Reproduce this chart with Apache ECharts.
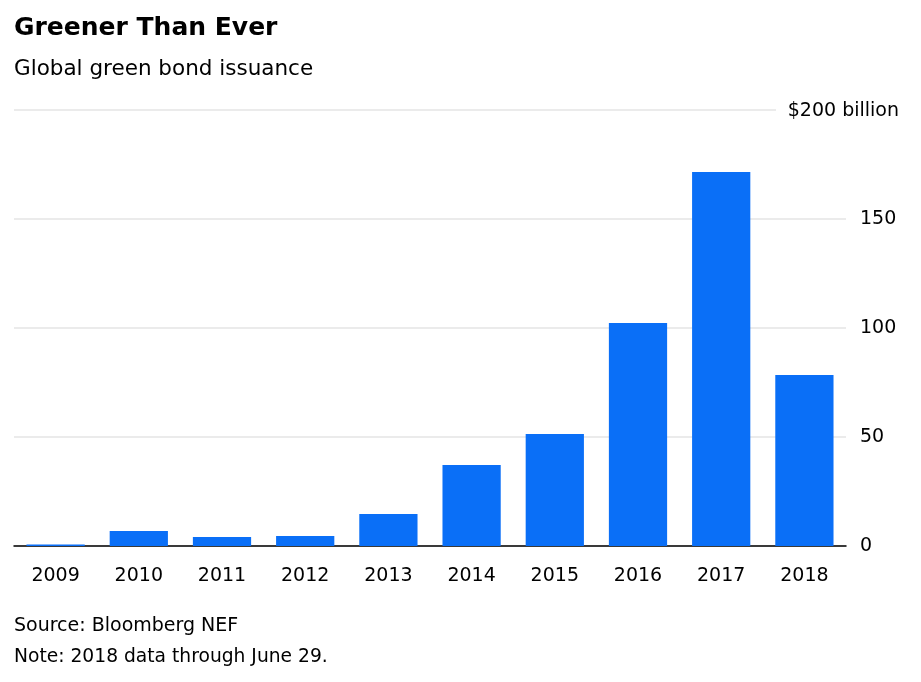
<!DOCTYPE html>
<html>
<head>
<meta charset="utf-8">
<script src="https://cdn.jsdelivr.net/npm/echarts@6/dist/echarts.min.js"></script>
<style>html,body{margin:0;padding:0;background:#fff;}#c{width:921px;height:682px;}</style>
</head>
<body>
<div id="c"></div>
<script>
const categories = ['2009','2010','2011','2012','2013','2014','2015','2016','2017','2018'];
const issuance = [0.7, 6.9, 4.1, 4.6, 14.7, 37.2, 51.4, 102.3, 171.6, 78.4];
const yTicks = [0, 50, 100, 150, 200];
const topTickLabel = '$200 billion';
const titleText = 'Greener Than Ever';
const subtitleText = 'Global green bond issuance';
const sourceText = 'Source: Bloomberg NEF';
const noteText = 'Note: 2018 data through June 29.';

const FONT = '"DejaVu Sans"';
const chart = echarts.init(document.getElementById('c'));
chart.setOption({
  animation: false,
  backgroundColor: '#fff',
  title: [
    {text: titleText, left: 14, top: 16, padding: 0,
     textStyle: {fontFamily: FONT, fontWeight: 'bold', fontSize: 25, color: '#000'}},
    {text: subtitleText, left: 14, top: 58, padding: 0,
     textStyle: {fontFamily: FONT, fontWeight: 'normal', fontSize: 21.5, color: '#000'}},
    {text: sourceText, left: 14, top: 617, padding: 0,
     textStyle: {fontFamily: FONT, fontWeight: 'normal', fontSize: 19, color: '#000'}},
    {text: noteText, left: 14, top: 648, padding: 0,
     textStyle: {fontFamily: FONT, fontWeight: 'normal', fontSize: 18.7, color: '#000'}}
  ],
  grid: {left: 14, right: 75, top: 110, bottom: 136, containLabel: false},
  xAxis: {
    type: 'category', data: categories,
    axisLine: {lineStyle: {color: '#000', width: 1.5}},
    axisTick: {alignWithLabel: true, length: 6, lineStyle: {color: '#000', width: 1.5}},
    axisLabel: {margin: 21, fontFamily: FONT, fontSize: 19, color: '#000'}
  },
  yAxis: {
    type: 'value', position: 'right', min: yTicks[0], max: yTicks[yTicks.length-1], interval: yTicks[1]-yTicks[0],
    axisLine: {show: false}, axisTick: {show: false},
    splitLine: {lineStyle: {color: '#ebebeb', width: 2}},
    axisLabel: {margin: 14, fontFamily: FONT, fontSize: 19, color: '#000',
      formatter: v => v === yTicks[yTicks.length-1] ? '' : String(v)}
  },
  series: [{
    type: 'bar', data: issuance, barCategoryGap: '30%',
    itemStyle: {color: '#0a6ff7'}
  }]
});
const yTop = chart.convertToPixel({yAxisIndex: 0}, yTicks[yTicks.length-1]);
chart.setOption({
  graphic: [
    {type: 'rect', left: 776, top: yTop - 6, shape: {width: 145, height: 12}, style: {fill: '#fff'}, z: 10},
    {type: 'text', right: 22, top: yTop - 8, z: 11,
     style: {text: topTickLabel, fontFamily: FONT, fontSize: 19, fill: '#000'}}
  ]
});
</script>
</body>
</html>
